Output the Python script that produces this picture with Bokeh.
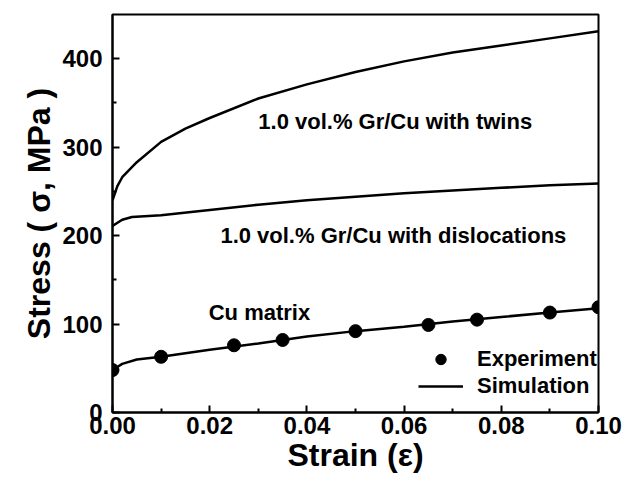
from bokeh.plotting import figure
from bokeh.models import Range1d, FixedTicker, NumeralTickFormatter, Legend, LegendItem, ColumnDataSource
from bokeh.core.properties import value
from bokeh.embed import file_html
from bokeh.resources import INLINE

FONT = "Liberation Sans"

# Cu matrix experiment
exp_strain = [0.0, 0.010, 0.025, 0.035, 0.050, 0.065, 0.075, 0.090, 0.100]
exp_stress = [48, 63, 76, 82, 92, 99, 105, 113, 119]

# Cu matrix simulation
cu_strain = [0.0, 0.002, 0.005, 0.010, 0.020, 0.030, 0.040, 0.050, 0.060, 0.070, 0.080, 0.090, 0.100]
cu_stress = [48, 55, 60, 63, 71, 78, 86, 92, 97, 103, 108, 113, 118]

# Gr/Cu with twins
tw_strain = [0.0, 0.001, 0.002, 0.005, 0.010, 0.015, 0.020, 0.030, 0.040, 0.050, 0.060, 0.070, 0.080, 0.090, 0.100]
tw_stress = [240, 256, 266, 283, 306, 321, 333, 355, 371, 385, 397, 407, 415, 423, 431]

# Gr/Cu with dislocations
di_strain = [0.0, 0.002, 0.004, 0.010, 0.020, 0.030, 0.040, 0.050, 0.060, 0.070, 0.080, 0.090, 0.100]
di_stress = [211, 218, 221, 223, 229, 235, 240, 244, 248, 251, 254, 257, 259]

x_ticks = [0.0, 0.02, 0.04, 0.06, 0.08, 0.10]
x_minor = [0.01, 0.03, 0.05, 0.07, 0.09]
y_ticks = [0, 100, 200, 300, 400]
y_minor = [50, 150, 250, 350]

labels_text = ["1.0 vol.% Gr/Cu with twins", "1.0 vol.% Gr/Cu with dislocations", "Cu matrix"]
labels_x = [0.030, 0.0222, 0.0198]
labels_y = [329, 200, 113]

p = figure(width=632, height=482, output_backend="svg", toolbar_location=None,
           x_range=Range1d(0, 0.1), y_range=Range1d(0, 450),
           min_border_left=112, min_border_right=34, min_border_top=14, min_border_bottom=70)
p.grid.visible = False
p.outline_line_color = "black"
p.outline_line_width = 2
p.background_fill_color = "white"

sim_line = p.line(cu_strain, cu_stress, line_color="black", line_width=2.5)
p.line(tw_strain, tw_stress, line_color="black", line_width=2.5)
p.line(di_strain, di_stress, line_color="black", line_width=2.5)
exp_pts = p.scatter(exp_strain, exp_stress, size=13, fill_color="black", line_color="black")

src = ColumnDataSource(dict(x=labels_x, y=labels_y, t=labels_text))
p.text(x="x", y="y", text="t", source=src, text_font=value(FONT), text_font_style="bold",
       text_font_size="22px", text_align="left", text_baseline="middle", text_color="black")

for ax in (p.xaxis[0], p.yaxis[0]):
    ax.axis_line_width = 2
    ax.major_tick_line_width = 2
    ax.minor_tick_line_width = 2
    ax.major_tick_in = 7
    ax.major_tick_out = 0
    ax.minor_tick_in = 4
    ax.minor_tick_out = 0
    ax.major_label_text_font = FONT
    ax.major_label_text_font_style = "bold"
    ax.major_label_text_font_size = "24px"
    ax.major_label_text_color = "black"
    ax.axis_label_text_font = FONT
    ax.axis_label_text_font_style = "bold"
    ax.axis_label_text_font_size = "32px"
    ax.axis_label_text_color = "black"

p.xaxis.ticker = FixedTicker(ticks=x_ticks, minor_ticks=x_minor)
p.yaxis.ticker = FixedTicker(ticks=y_ticks, minor_ticks=y_minor)
p.xaxis.formatter = NumeralTickFormatter(format="0.00")
p.xaxis.axis_label = "Strain (ε)"
p.yaxis.axis_label = "Stress ( σ, MPa )"
p.xaxis.major_label_standoff = 4
p.yaxis.major_label_standoff = 10
p.xaxis.axis_label_standoff = 0
p.yaxis.axis_label_standoff = 2

legend = Legend(items=[LegendItem(label="Experiment", renderers=[exp_pts]),
                       LegendItem(label="Simulation", renderers=[sim_line])],
                location=(306, 13), border_line_color=None, background_fill_alpha=0,
                label_text_font=FONT, label_text_font_style="bold", label_text_font_size="22px",
                label_text_color="black", glyph_height=26,
                glyph_width=45, label_standoff=14, spacing=1, padding=6, margin=0)
p.add_layout(legend)

open("out.html", "w").write(file_html(p, INLINE))
